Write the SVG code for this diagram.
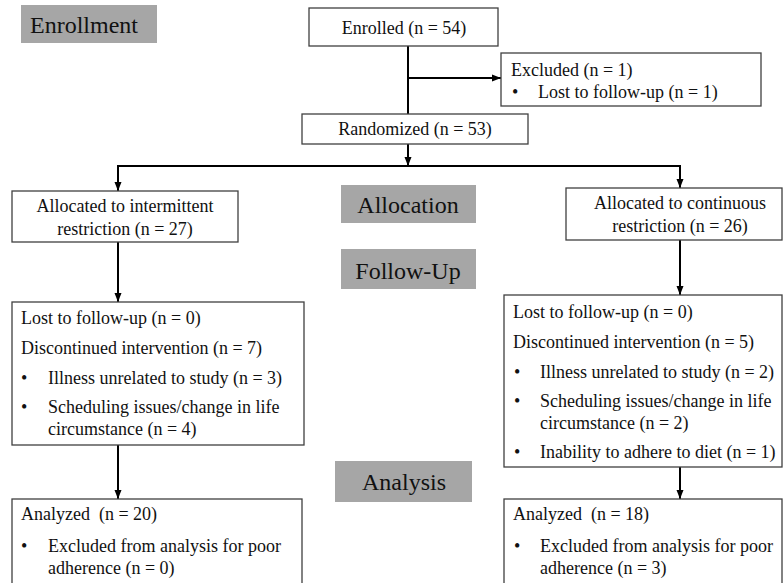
<svg xmlns="http://www.w3.org/2000/svg" width="783" height="583" viewBox="0 0 783 583" font-family="Liberation Serif, Times New Roman, serif">
<defs>
<style>
.box{fill:#fff;stroke:#404040;stroke-width:1.3}
.lbl{fill:#a6a6a6}
.t{font-size:18px;fill:#111}
.h{font-size:24px;fill:#111}
.c{text-anchor:middle}
.ln{stroke:#000;stroke-width:2;fill:none}
</style>
<marker id="ah" markerUnits="userSpaceOnUse" markerWidth="10" markerHeight="10" viewBox="0 0 10 10" refX="9" refY="5" orient="auto">
<path d="M0,1.5 L9,5 L0,8.5 Z" fill="#000"/>
</marker>
</defs>
<rect width="783" height="583" fill="#fff"/>

<g id="label-enrollment"><rect class="lbl" x="21" y="5" width="136" height="38"/><text class="h" x="30" y="33">Enrollment</text></g>
<g id="label-allocation"><rect class="lbl" x="341" y="185" width="135" height="38"/><text class="h c" x="408" y="213">Allocation</text></g>
<g id="label-followup"><rect class="lbl" x="341" y="249" width="135" height="40"/><text class="h c" x="408" y="279">Follow-Up</text></g>
<g id="label-analysis"><rect class="lbl" x="335" y="461" width="137" height="41"/><text class="h c" x="404" y="490">Analysis</text></g>

<g id="connectors">
<line class="ln" x1="408" y1="46" x2="408" y2="114"/>
<line class="ln" x1="408" y1="78" x2="501" y2="78" marker-end="url(#ah)"/>
<line class="ln" x1="408" y1="144" x2="408" y2="166" marker-end="url(#ah)"/>
<polyline class="ln" points="118,166 680,166 680,188" marker-end="url(#ah)"/>
<line class="ln" x1="118" y1="165" x2="118" y2="191" marker-end="url(#ah)"/>
<line class="ln" x1="118" y1="242" x2="118" y2="302" marker-end="url(#ah)"/>
<line class="ln" x1="680" y1="240" x2="680" y2="295" marker-end="url(#ah)"/>
<line class="ln" x1="118" y1="445" x2="118" y2="499" marker-end="url(#ah)"/>
<line class="ln" x1="680" y1="467" x2="680" y2="499" marker-end="url(#ah)"/>
</g>

<g id="enrolled"><rect class="box" x="309" y="8" width="189" height="38"/><text class="t c" x="404" y="34">Enrolled (n = 54)</text></g>
<g id="excluded"><rect class="box" x="501" y="53" width="260" height="53"/>
<text class="t" x="511" y="76">Excluded (n = 1)</text>
<text class="t" x="512" y="98">•</text><text class="t" x="538" y="98">Lost to follow-up (n = 1)</text></g>
<g id="randomized"><rect class="box" x="302" y="114" width="226" height="30"/><text class="t c" x="415" y="135">Randomized (n = 53)</text></g>

<g id="alloc-intermittent"><rect class="box" x="12" y="191" width="226" height="51"/>
<text class="t c" x="125" y="212">Allocated to intermittent</text>
<text class="t c" x="125" y="235">restriction (n = 27)</text></g>
<g id="alloc-continuous"><rect class="box" x="566" y="188" width="216" height="52"/>
<text class="t c" x="680" y="209">Allocated to continuous</text>
<text class="t c" x="680" y="232">restriction (n = 26)</text></g>

<g id="followup-intermittent"><rect class="box" x="12" y="302" width="292" height="143"/>
<text class="t" x="21" y="324">Lost to follow-up (n = 0)</text>
<text class="t" x="21" y="354">Discontinued intervention (n = 7)</text>
<text class="t" x="21" y="384">•</text><text class="t" x="48" y="384">Illness unrelated to study (n = 3)</text>
<text class="t" x="21" y="413">•</text><text class="t" x="48" y="413">Scheduling issues/change in life</text>
<text class="t" x="48" y="435">circumstance (n = 4)</text></g>

<g id="followup-continuous"><rect class="box" x="504" y="295" width="278" height="172"/>
<text class="t" x="513" y="318">Lost to follow-up (n = 0)</text>
<text class="t" x="513" y="348">Discontinued intervention (n = 5)</text>
<text class="t" x="514" y="378">•</text><text class="t" x="540" y="378">Illness unrelated to study (n = 2)</text>
<text class="t" x="514" y="407">•</text><text class="t" x="540" y="407">Scheduling issues/change in life</text>
<text class="t" x="540" y="429">circumstance (n = 2)</text>
<text class="t" x="514" y="458">•</text><text class="t" x="540" y="458">Inability to adhere to diet (n = 1)</text></g>

<g id="analyzed-intermittent"><rect class="box" x="12" y="499" width="290" height="100"/>
<text class="t" x="21" y="520" xml:space="preserve">Analyzed  (n = 20)</text>
<text class="t" x="21" y="552">•</text><text class="t" x="48" y="552">Excluded from analysis for poor</text>
<text class="t" x="48" y="574">adherence (n = 0)</text></g>

<g id="analyzed-continuous"><rect class="box" x="504" y="499" width="278" height="100"/>
<text class="t" x="513" y="520" xml:space="preserve">Analyzed  (n = 18)</text>
<text class="t" x="514" y="552">•</text><text class="t" x="540" y="552">Excluded from analysis for poor</text>
<text class="t" x="540" y="574">adherence (n = 3)</text></g>
</svg>
